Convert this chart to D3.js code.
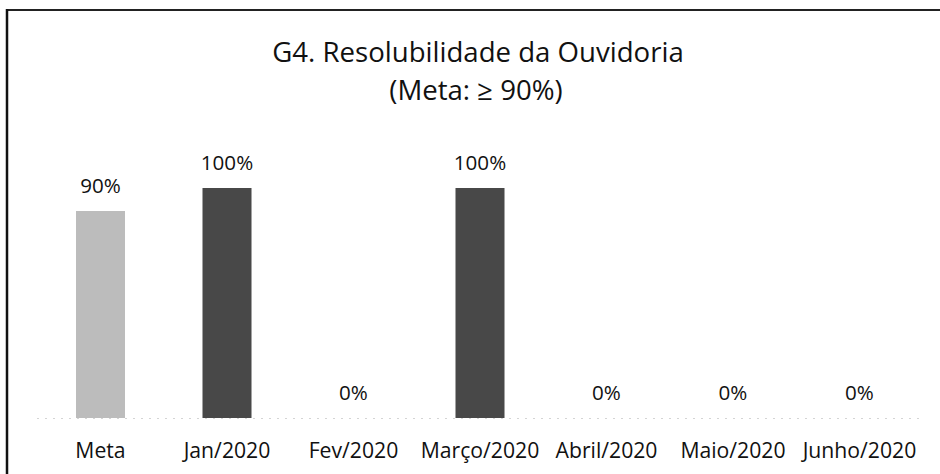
<!DOCTYPE html>
<html>
<head>
<meta charset="utf-8">
<script src="https://cdn.jsdelivr.net/npm/d3@7"></script>
<style>
  html, body { margin: 0; padding: 0; background: #fff; }
  svg { display: block; }
  text { font-family: "Open Sans", Lato, sans-serif; fill: #111; }
</style>
</head>
<body>
<svg id="chart" width="940" height="474"></svg>
<script>
const categories = ["Meta", "Jan/2020", "Fev/2020", "Março/2020", "Abril/2020", "Maio/2020", "Junho/2020"];
const values = [0.90, 1.00, 0.00, 1.00, 0.00, 0.00, 0.00];
const valueLabels = ["90%", "100%", "0%", "100%", "0%", "0%", "0%"];
const barColors = ["#bcbcbc", "#484848", "#484848", "#484848", "#484848", "#484848", "#484848"];
const titleLines = ["G4. Resolubilidade da Ouvidoria", "(Meta: ≥ 90%)"];

const svg = d3.select("#chart");

const x = d3.scaleBand().domain(categories).range([37.25, 922.75]).paddingInner(0.6126).paddingOuter(0.3063);
const y = d3.scaleLinear().domain([0, 1]).range([418, 188]);

// frame lines (top and left)
svg.append("line").attr("x1", 7).attr("x2", 940).attr("y1", 10).attr("y2", 10)
  .attr("stroke", "#222").attr("stroke-width", 2);
svg.append("line").attr("x1", 7).attr("x2", 7).attr("y1", 9).attr("y2", 474)
  .attr("stroke", "#111").attr("stroke-width", 2.5);

// title
svg.append("text").attr("x", 478).attr("y", 62).attr("text-anchor", "middle")
  .style("font-size", "27.6px").text(titleLines[0]);
svg.append("text").attr("x", 476).attr("y", 100).attr("text-anchor", "middle")
  .style("font-size", "27.6px").text(titleLines[1]);

// faint baseline
svg.append("line").attr("x1", 37).attr("x2", 923).attr("y1", y(0) + 0.5).attr("y2", y(0) + 0.5)
  .attr("stroke", "#d4d4d4").attr("stroke-width", 1).attr("stroke-dasharray", "2,6");

// bars
svg.selectAll("rect.bar").data(categories).enter().append("rect")
  .attr("class", "bar")
  .attr("x", d => x(d))
  .attr("width", x.bandwidth())
  .attr("y", (d, i) => y(values[i]))
  .attr("height", (d, i) => y(0) - y(values[i]))
  .attr("fill", (d, i) => barColors[i]);

// value labels
svg.selectAll("text.val").data(categories).enter().append("text")
  .attr("class", "val")
  .attr("x", d => x(d) + x.bandwidth() / 2)
  .attr("y", (d, i) => y(values[i]) - 18)
  .attr("text-anchor", "middle")
  .style("font-size", "20.6px")
  .text((d, i) => valueLabels[i]);

// category axis labels
const axis = d3.axisBottom(x).tickSize(0).tickPadding(0);
const g = svg.append("g").attr("transform", `translate(0, 458)`).call(axis);
g.select(".domain").remove();
g.selectAll("text").style("font-size", "21.2px").style("font-family", "'Open Sans', Lato, sans-serif")
  .attr("fill", "#111").attr("dy", "0");
</script>
</body>
</html>
